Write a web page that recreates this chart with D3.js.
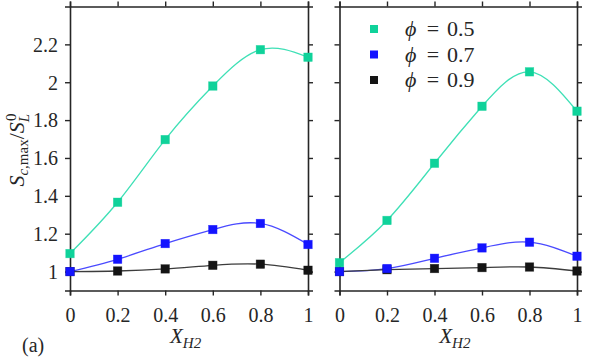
<!DOCTYPE html>
<html><head><meta charset="utf-8">
<script src="https://cdn.jsdelivr.net/npm/d3@7"></script>
<style>body{margin:0;background:#fff}svg{display:block}text{font-family:"Liberation Serif","DejaVu Serif",serif;fill:#262626}</style>
</head><body><svg id="c" width="598" height="357"></svg>
<script>
const xValues = [0, 0.2, 0.4, 0.6, 0.8, 1];
const xTicks = [0, 0.2, 0.4, 0.6, 0.8, 1];
const xTickLabels = ["0", "0.2", "0.4", "0.6", "0.8", "1"];
const yTicks = [1, 1.2, 1.4, 1.6, 1.8, 2, 2.2];
const yTickLabels = ["1", "1.2", "1.4", "1.6", "1.8", "2", "2.2"];
const seriesNames = ["0.5", "0.7", "0.9"];
const markerColors = ["#0fd29a", "#1414ff", "#141414"];
const lineColors = ["#3fe0b6", "#4a4aff", "#3c3c3c"];
// left panel
const leftPhi05 = [1.095, 1.366, 1.697, 1.98, 2.172, 2.132];
const leftPhi07 = [1.0, 1.065, 1.148, 1.222, 1.254, 1.143];
const leftPhi09 = [1.0, 1.003, 1.014, 1.033, 1.039, 1.007];
// right panel
const rightPhi05 = [1.047, 1.27, 1.572, 1.873, 2.055, 1.847];
const rightPhi07 = [1.0, 1.016, 1.07, 1.125, 1.155, 1.081];
const rightPhi09 = [1.0, 1.01, 1.016, 1.021, 1.024, 1.003];

const FONT = '"Liberation Serif", "DejaVu Serif", serif';
const svg = d3.select("#c");
const plotTop = 6.5, plotBottom = 290.5;
const y = d3.scaleLinear().domain([0.9, 2.4]).range([plotBottom, plotTop]);
const panels = [
  {x0: 70, x1: 308, data: [leftPhi05, leftPhi07, leftPhi09], yLabels: true},
  {x0: 339.5, x1: 577, data: [rightPhi05, rightPhi07, rightPhi09], yLabels: false}
];
const axisColor = "#262626";
panels.forEach((p, pi) => {
  const x = d3.scaleLinear().domain([0, 1]).range([p.x0, p.x1]);
  const g = svg.append("g");
  const bAx = g.append("g").attr("transform", `translate(0,${plotBottom})`)
    .call(d3.axisBottom(x).tickValues(xTicks).tickSize(5).tickFormat((d,i)=>xTickLabels[i]));
  const tAx = g.append("g").attr("transform", `translate(0,${plotTop})`)
    .call(d3.axisTop(x).tickValues(xTicks).tickSize(5).tickFormat(""));
  const lAx = g.append("g").attr("transform", `translate(${p.x0},0)`)
    .call(d3.axisLeft(y).tickValues(yTicks).tickSize(5).tickFormat((d,i)=> p.yLabels ? yTickLabels[i] : ""));
  const rAx = g.append("g").attr("transform", `translate(${p.x1},0)`)
    .call(d3.axisRight(y).tickValues(yTicks).tickSize(5).tickFormat(""));
  [bAx, tAx, lAx, rAx].forEach(a => {
    a.attr("font-family", FONT);
    a.select(".domain").attr("stroke", axisColor).attr("stroke-width", 1.6);
    a.selectAll(".tick line").attr("stroke", axisColor).attr("stroke-width", 1.4);
    a.selectAll("text").attr("font-size", 20).attr("fill", "#262626").attr("font-family", FONT);
  });
  bAx.selectAll(".tick text").attr("y", 0).attr("dy", 0).attr("transform", "translate(0,31.5)");
  lAx.selectAll(".tick text").attr("x", -12).attr("dy", "0.34em");
  const line = d3.line().x((d,i)=>x(xValues[i])).y(d=>y(d)).curve(d3.curveNatural);
  p.data.forEach((s, si) => {
    g.append("path").attr("d", line(s)).attr("fill", "none")
      .attr("stroke", lineColors[si]).attr("stroke-width", 1.3);
  });
  p.data.slice().reverse().forEach((s, ri) => {
    const si = p.data.length - 1 - ri;
    g.selectAll(null).data(s).enter().append("rect")
      .attr("x", (d,i)=>x(xValues[i]) - 4.25).attr("y", d=>y(d) - 4.25)
      .attr("width", 8.5).attr("height", 8.5)
      .attr("fill", markerColors[si]).attr("stroke", markerColors[si]).attr("stroke-opacity", 0.6).attr("stroke-width", 0.6);
  });
  const cx = (p.x0 + p.x1) / 2;
  const xl = g.append("text").attr("x", cx - 19).attr("y", 343).attr("font-size", 21).attr("font-family", FONT);
  xl.append("tspan").attr("font-style", "italic").text("X");
  xl.append("tspan").attr("font-style", "italic").attr("font-size", 15).attr("dy", 5).text("H2");
});

const legY = [29, 54.5, 80];
seriesNames.forEach((n, i) => {
  svg.append("rect").attr("x", 374 - 4).attr("y", legY[i] - 4).attr("width", 8).attr("height", 8)
    .attr("fill", markerColors[i]);
  svg.append("text").attr("x", 405).attr("y", legY[i] + 7).attr("font-size", 22).attr("font-family", FONT)
    .attr("font-style", "italic").text("\u03d5");
  svg.append("text").attr("x", 433).attr("y", legY[i] + 7).attr("font-size", 22).attr("font-family", FONT)
    .attr("text-anchor", "middle").text("=");
  svg.append("text").attr("x", 447).attr("y", legY[i] + 7).attr("font-size", 22).attr("font-family", FONT).text(n);
});

const yl = svg.append("text").attr("transform", "translate(24,150) rotate(-90)")
  .attr("text-anchor", "middle").attr("font-size", 22).attr("font-family", FONT);
yl.append("tspan").attr("font-style", "italic").text("S");
yl.append("tspan").attr("font-style", "italic").attr("font-size", 15).attr("dy", 4).text("c,");
yl.append("tspan").attr("font-size", 15).text("max");
yl.append("tspan").attr("dy", -4).text("/");
yl.append("tspan").attr("font-style", "italic").text("S");
yl.append("tspan").attr("font-style", "italic").attr("font-size", 15).attr("dy", 5).text("L");
yl.append("tspan").attr("font-size", 15).attr("dx", -7).attr("dy", -13).text("0");

svg.append("text").attr("x", 22).attr("y", 352).attr("font-size", 20).attr("font-family", FONT).text("(a)");
</script></body></html>
